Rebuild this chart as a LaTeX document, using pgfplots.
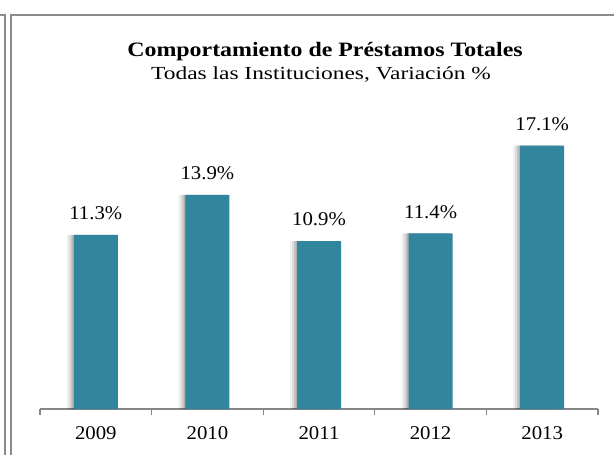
\documentclass[border=0pt]{standalone}
\usepackage{pgfplots}
\pgfplotsset{compat=1.18}
\usepackage{fontspec}
\setmainfont{Liberation Serif}
\newfontfamily\titlefont[FakeStretch=1.17]{Liberation Serif}
\newfontfamily\subfont[FakeStretch=1.27]{Liberation Serif}
\newfontfamily\labfont[FakeStretch=1.07]{Liberation Serif}
\definecolor{barc}{HTML}{31859C}
\definecolor{framec}{HTML}{8C8C8C}
\definecolor{axc}{HTML}{868686}
\pgfplotstableread{
x y
0 11.3
1 13.9
2 10.9
3 11.4
4 17.1
}\datatab
\begin{document}
\begin{tikzpicture}
\path[use as bounding box] (0bp,0bp) rectangle (614bp,455bp);
\draw[framec, line width=1.8bp] (0bp,440bp) -- (5bp,440bp) -- (5bp,0bp);
\draw[framec, line width=1.8bp] (614bp,440bp) -- (11bp,440bp) -- (11bp,0bp);
\node[font=\titlefont\fontsize{20.5}{24}\selectfont\bfseries] at (325bp,403.5bp) {Comportamiento de Préstamos Totales};
\node[font=\subfont\fontsize{18.5}{23}\selectfont] at (321bp,380bp) {Todas las Instituciones, Variación \%};
\begin{axis}[
  at={(40bp,46bp)}, anchor=south west,
  scale only axis, width=558bp, height=308bp,
  xmin=-0.5, xmax=4.5, ymin=0, ymax=20,
  axis x line*=bottom, axis y line=none,
  x axis line style={axc, line width=1.2bp, -},
  ybar, bar width=44bp,
  xtick={0,1,2,3,4},
  xticklabels={2009,2010,2011,2012,2013},
  major tick length=0pt,
  minor xtick={-0.5,0.5,1.5,2.5,3.5,4.5},
  minor tick length=6bp, tick align=outside,
  minor tick style={axc, line width=1.2bp},
  xticklabel style={font=\labfont\fontsize{19.5}{23}\selectfont, anchor=center, yshift=-24bp},
  /pgf/number format/assume math mode=true,
  clip=false,
]
\addplot[fill=black, fill opacity=0.06, draw=none, bar shift=-7bp, bar width=44bp] table[x=x,y=y] {\datatab};
\addplot[fill=black, fill opacity=0.08, draw=none, bar shift=-5bp, bar width=44bp] table[x=x,y=y] {\datatab};
\addplot[fill=black, fill opacity=0.10, draw=none, bar shift=-3bp, bar width=44bp] table[x=x,y=y] {\datatab};
\addplot[fill=black, fill opacity=0.12, draw=none, bar shift=-1.5bp, bar width=44bp] table[x=x,y=y] {\datatab};
\addplot[fill=barc, draw=none, bar shift=0bp,
  nodes near coords={\pgfmathprintnumber[fixed,fixed zerofill,precision=1]{\pgfplotspointmeta}\%},
  every node near coord/.append style={anchor=center, yshift=21.5bp, font=\labfont\fontsize{19.5}{23}\selectfont, text=black, fill opacity=1, text opacity=1},
] table[x=x,y=y] {\datatab};
\end{axis}
\end{tikzpicture}
\end{document}
